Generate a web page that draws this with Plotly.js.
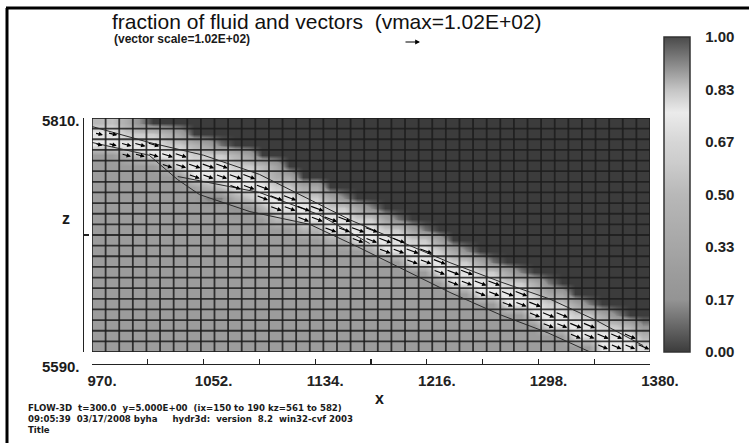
<!DOCTYPE html>
<html><head><meta charset="utf-8">
<script src="https://cdn.plot.ly/plotly-3.0.1.min.js"></script>
<style>html,body{margin:0;padding:0;background:#fff}#chart{width:749px;height:443px}</style>
</head><body><div id="chart"></div>
<script>
// ---- data ----
const xCenters = [975,985,995,1005,1015,1025,1035,1045,1055,1065,1075,1085,1095,1105,1115,1125,1135,1145,1155,1165,1175,1185,1195,1205,1215,1225,1235,1245,1255,1265,1275,1285,1295,1305,1315,1325,1335,1345,1355,1365,1375];
const zCenters = [5805,5795,5785,5775,5765,5755,5745,5735,5725,5715,5705,5695,5685,5675,5665,5655,5645,5635,5625,5615,5605,5595];

// fraction of fluid, one row per z (top row first), one value per x cell
const fluidFraction = [
 [0.5,0.55,0.4,0.15,0,0,0,0,0,0, 0,0,0,0,0,0,0,0,0,0, 0,0,0,0,0,0,0,0,0,0, 0,0,0,0,0,0,0,0,0,0, 0],
 [0.78,0.78,0.6,0.6,0.6,0.45,0.3,0,0,0, 0,0,0,0,0,0,0,0,0,0, 0,0,0,0,0,0,0,0,0,0, 0,0,0,0,0,0,0,0,0,0, 0],
 [0.74,0.74,0.78,0.78,0.78,0.6,0.6,0.45,0.3,0.1, 0,0,0,0,0,0,0,0,0,0, 0,0,0,0,0,0,0,0,0,0, 0,0,0,0,0,0,0,0,0,0, 0],
 [0.25,0.25,0.45,0.6,0.74,0.78,0.78,0.6,0.6,0.6, 0.45,0.3,0,0,0,0,0,0,0,0, 0,0,0,0,0,0,0,0,0,0, 0,0,0,0,0,0,0,0,0,0, 0],
 [0.25,0.25,0.25,0.25,0.25,0.45,0.74,0.78,0.78,0.78, 0.6,0.6,0.5,0.3,0,0,0,0,0,0, 0,0,0,0,0,0,0,0,0,0, 0,0,0,0,0,0,0,0,0,0, 0],
 [0.25,0.25,0.25,0.25,0.25,0.25,0.25,0.74,0.74,0.74, 0.78,0.78,0.6,0.4,0.35,0,0,0,0,0, 0,0,0,0,0,0,0,0,0,0, 0,0,0,0,0,0,0,0,0,0, 0],
 [0.25,0.25,0.25,0.25,0.25,0.25,0.25,0.3,0.45,0.55, 0.74,0.74,0.78,0.6,0.6,0.35,0.35,0,0,0, 0,0,0,0,0,0,0,0,0,0, 0,0,0,0,0,0,0,0,0,0, 0],
 [0.25,0.25,0.25,0.25,0.25,0.25,0.25,0.25,0.12,0.12, 0.4,0.55,0.74,0.78,0.78,0.6,0.6,0.35,0.15,0, 0,0,0,0,0,0,0,0,0,0, 0,0,0,0,0,0,0,0,0,0, 0],
 [0.25,0.25,0.25,0.25,0.25,0.25,0.25,0.25,0.25,0.25, 0.18,0.2,0.45,0.74,0.74,0.78,0.78,0.6,0.6,0.35, 0.15,0,0,0,0,0,0,0,0,0, 0,0,0,0,0,0,0,0,0,0, 0],
 [0.25,0.25,0.25,0.25,0.25,0.25,0.25,0.25,0.25,0.25, 0.25,0.25,0.25,0.5,0.5,0.74,0.74,0.78,0.78,0.6, 0.6,0.3,0.1,0,0,0,0,0,0,0, 0,0,0,0,0,0,0,0,0,0, 0],
 [0.25,0.25,0.25,0.25,0.25,0.25,0.25,0.25,0.25,0.25, 0.25,0.25,0.25,0.25,0.25,0.45,0.45,0.74,0.74,0.78, 0.78,0.6,0.6,0.3,0.1,0,0,0,0,0, 0,0,0,0,0,0,0,0,0,0, 0],
 [0.25,0.25,0.25,0.25,0.25,0.25,0.25,0.25,0.25,0.25, 0.25,0.25,0.25,0.25,0.25,0.25,0.25,0.4,0.4,0.74, 0.74,0.78,0.78,0.6,0.6,0.3,0,0,0,0, 0,0,0,0,0,0,0,0,0,0, 0],
 [0.25,0.25,0.25,0.25,0.25,0.25,0.25,0.25,0.25,0.25, 0.25,0.25,0.25,0.25,0.25,0.25,0.25,0.25,0.25,0.25, 0.35,0.74,0.74,0.78,0.78,0.6,0.35,0.15,0,0, 0,0,0,0,0,0,0,0,0,0, 0],
 [0.25,0.25,0.25,0.25,0.25,0.25,0.25,0.25,0.25,0.25, 0.25,0.25,0.25,0.25,0.25,0.25,0.25,0.25,0.25,0.25, 0.25,0.25,0.25,0.74,0.74,0.78,0.6,0.6,0.35,0.1, 0,0,0,0,0,0,0,0,0,0, 0],
 [0.25,0.25,0.25,0.25,0.25,0.25,0.25,0.25,0.25,0.25, 0.25,0.25,0.25,0.25,0.25,0.25,0.25,0.25,0.25,0.25, 0.25,0.25,0.25,0.25,0.25,0.74,0.78,0.78,0.6,0.6, 0.35,0.12,0,0,0,0,0,0,0,0, 0],
 [0.25,0.25,0.25,0.25,0.25,0.25,0.25,0.25,0.25,0.25, 0.25,0.25,0.25,0.25,0.25,0.25,0.25,0.25,0.25,0.25, 0.25,0.25,0.25,0.25,0.25,0.25,0.74,0.74,0.78,0.78, 0.6,0.6,0.4,0.12,0,0,0,0,0,0, 0],
 [0.25,0.25,0.25,0.25,0.25,0.25,0.25,0.25,0.25,0.25, 0.25,0.25,0.25,0.25,0.25,0.25,0.25,0.25,0.25,0.25, 0.25,0.25,0.25,0.25,0.25,0.25,0.25,0.25,0.74,0.74, 0.78,0.78,0.6,0.35,0.3,0,0,0,0,0, 0],
 [0.25,0.25,0.25,0.25,0.25,0.25,0.25,0.25,0.25,0.25, 0.25,0.25,0.25,0.25,0.25,0.25,0.25,0.25,0.25,0.25, 0.25,0.25,0.25,0.25,0.25,0.25,0.25,0.25,0.25,0.25, 0.74,0.74,0.78,0.6,0.6,0.35,0.12,0,0,0, 0],
 [0.25,0.25,0.25,0.25,0.25,0.25,0.25,0.25,0.25,0.25, 0.25,0.25,0.25,0.25,0.25,0.25,0.25,0.25,0.25,0.25, 0.25,0.25,0.25,0.25,0.25,0.25,0.25,0.25,0.25,0.25, 0.25,0.25,0.74,0.78,0.78,0.6,0.6,0.35,0.15,0, 0],
 [0.25,0.25,0.25,0.25,0.25,0.25,0.25,0.25,0.25,0.25, 0.25,0.25,0.25,0.25,0.25,0.25,0.25,0.25,0.25,0.25, 0.25,0.25,0.25,0.25,0.25,0.25,0.25,0.25,0.25,0.25, 0.25,0.25,0.25,0.74,0.74,0.78,0.78,0.6,0.55,0.4, 0.15],
 [0.25,0.25,0.25,0.25,0.25,0.25,0.25,0.25,0.25,0.25, 0.25,0.25,0.25,0.25,0.25,0.25,0.25,0.25,0.25,0.25, 0.25,0.25,0.25,0.25,0.25,0.25,0.25,0.25,0.25,0.25, 0.25,0.25,0.25,0.25,0.25,0.74,0.74,0.78,0.78,0.78, 0.45],
 [0.25,0.25,0.25,0.25,0.25,0.25,0.25,0.25,0.25,0.25, 0.25,0.25,0.25,0.25,0.25,0.25,0.25,0.25,0.25,0.25, 0.25,0.25,0.25,0.25,0.25,0.25,0.25,0.25,0.25,0.25, 0.25,0.25,0.25,0.25,0.25,0.25,0.25,0.74,0.74,0.74, 0.7]
];

// velocity vectors: row index (into zCenters) of the upper vector in each column; the lower one sits one row below
const arrowRowTop = [1,1,2,2,2,3,3,4,4,4, 5,5,6,7,7,8,8,9,9,10, 10,11,11,12,12,13,14,14,15,15, 16,16,17,18,18,19,19,20,20,20, 21];
const uTop = [62,72,80,85,88,90,92,94,95,96, 97,98,99,100,101,101,102,102,101,101, 100,100,99,99,99,98,98,98,97,97, 96,96,96,95,95,94,94,93,92,91, 90];
const wTop = [-18,-22,-26,-30,-33,-36,-39,-41,-43,-44, -45,-46,-47,-48,-48,-49,-49,-49,-48,-48, -48,-48,-48,-47,-47,-48,-48,-48,-48,-48, -48,-48,-49,-49,-49,-50,-50,-50,-50,-50, -50];
const uLow = [55,64,72,76,79,81,83,84,85,86, 87,88,88,89,90,90,91,91,90,90, 89,89,88,88,88,87,87,87,86,86, 86,85,85,85,84,84,83,83,82,81, 80];
const wLow = [-16,-20,-24,-27,-30,-33,-35,-37,-38,-39, -40,-41,-42,-43,-43,-44,-44,-44,-43,-43, -43,-43,-43,-42,-42,-43,-43,-43,-43,-43, -43,-43,-44,-44,-44,-45,-45,-45,-45,-45, -45];

// fluid-surface contour lines
const upperLineX = [970,1012,1052,1093,1132,1160,1200,1233,1270,1306,1340,1375];
const upperLineZ = [5802,5787,5775,5757,5732,5714,5692,5674,5656,5640,5620,5596];
const lowerLineX = [970,1012,1033,1049,1086,1130,1165,1200,1233,1270,1305,1336];
const lowerLineZ = [5787,5775,5752,5738,5722,5710,5689,5667,5646,5625,5608,5590];
const midLineX = [1033,1060,1093,1137,1174];
const midLineZ = [5755,5748,5740,5719,5692];

const xTickVals = [970,1011,1052,1093,1134,1175,1216,1257,1298,1339,1380];
const xTickText = ['970.','','1052.','','1134.','','1216.','','1298.','','1380.'];
const yTickVals = [5590,5700,5810];
const cbTickVals = [0,0.1667,0.3333,0.5,0.6667,0.8333,1];
const cbTickText = ['0.00','0.17','0.33','0.50','0.67','0.83','1.00'];

// ---- layout helpers ----
const W=749, H=443, ML=80, MR=99, MT=118, MB=73;
const PW=W-ML-MR, PH=H-MT-MB;
const px = v => (v-ML)/PW;
const py = v => (H-MB-v)/PH;
const FONT = 'Liberation Sans, Arial, sans-serif';

const colorscale = [
  [0,'#3c3c3c'],[0.08,'#666666'],[0.1667,'#949494'],[0.25,'#9c9c9c'],[0.3333,'#a6a6a6'],
  [0.5,'#b8b8b8'],[0.6,'#cccccc'],[0.6667,'#d6d6d6'],[0.76,'#ebebeb'],[0.8333,'#c4c4c4'],[1,'#4a4a4a']
];

const heat = {
  type:'heatmap', x:xCenters, y:zCenters, z:fluidFraction,
  zmin:0, zmax:1, zsmooth:'best', colorscale:colorscale, hoverinfo:'skip',
  colorbar:{
    x:px(664), xanchor:'left', y:py(352), yanchor:'bottom',
    len:315, lenmode:'pixels', thickness:26, thicknessmode:'pixels',
    xpad:0, ypad:0, outlinewidth:1.5, outlinecolor:'#333', borderwidth:0,
    tickmode:'array', tickvals:cbTickVals, ticktext:cbTickText,
    ticks:'outside', ticklen:12, tickcolor:'rgba(0,0,0,0)',
    tickfont:{family:FONT, size:15, color:'#222', weight:'bold'}
  }
};

// grid lines on the cell edges
const hx = (xCenters[1]-xCenters[0])/2, hz = Math.abs(zCenters[0]-zCenters[1])/2;
const xEdges = [xCenters[0]-hx].concat(xCenters.map(v=>v+hx));
const zs = zCenters.slice().sort((a,b)=>a-b);
const zEdges = [zs[0]-hz].concat(zs.map(v=>v+hz));
const gx=[], gy=[];
xEdges.forEach(e=>{gx.push(e,e,null); gy.push(zEdges[0],zEdges[zEdges.length-1],null);});
zEdges.forEach(e=>{gx.push(xEdges[0],xEdges[xEdges.length-1],null); gy.push(e,e,null);});
const grid = {type:'scatter', mode:'lines', x:gx, y:gy, line:{color:'rgba(28,28,28,0.85)', width:1.8}, hoverinfo:'skip', showlegend:false};

const lineStyle = {color:'#2a2a2a', width:1};
const cUp = {type:'scatter', mode:'lines', x:upperLineX, y:upperLineZ, line:lineStyle, hoverinfo:'skip', showlegend:false};
const cLow = {type:'scatter', mode:'lines', x:lowerLineX, y:lowerLineZ, line:lineStyle, hoverinfo:'skip', showlegend:false};
const cMid = {type:'scatter', mode:'lines', x:midLineX, y:midLineZ, line:lineStyle, hoverinfo:'skip', showlegend:false};

// vectors as arrow annotations
const S = 0.1;
const annotations = [];
for (let c=0; c<xCenters.length; c++) {
  const rows = [[arrowRowTop[c], uTop[c], wTop[c]], [arrowRowTop[c]+1, uLow[c], wLow[c]]];
  rows.forEach(([r,u,w])=>{
    if (r > zCenters.length-1) return;
    const cx = xCenters[c], cz = zCenters[r];
    annotations.push({x:cx+u*S/2, y:cz+w*S/2, ax:cx-u*S/2, ay:cz-w*S/2,
      xref:'x', yref:'y', axref:'x', ayref:'y', text:'', showarrow:true,
      arrowhead:2, arrowsize:0.8, arrowwidth:1.1, arrowcolor:'#000'});
  });
}

const txt = (text, x, y, size, anchor, bold, family) => ({
  text:text, xref:'paper', yref:'paper', x:px(x), y:py(y), xanchor:anchor, yanchor:'middle',
  showarrow:false, font:{family:family || FONT, size:size, color:'#1a1a1a', weight: bold ? 'bold' : 'normal'}
});
annotations.push(txt('(vector scale=1.02E+02)', 112, 39, 12, 'left', true));
annotations.push(txt('5810.', 82, 120, 15, 'right', true));
annotations.push(txt('5590.', 82, 366, 15, 'right', true));
annotations.push(txt('z', 66, 218, 16, 'center', true));
annotations.push(txt('x', 379, 398, 16, 'center', true));
const footer = txt('FLOW-3D\u00a0 t=300.0\u00a0 y=5.000E+00\u00a0 (ix=150 to 190 kz=561 to 582)<br>' +
  '09:05:39\u00a0 03/17/2008 byha\u00a0\u00a0\u00a0\u00a0 hydr3d:\u00a0 version\u00a0 8.2\u00a0 win32-cvf 2003<br>Title',
  26, 419, 8.6, 'left', true, 'DejaVu Sans, sans-serif');
footer.align = 'left';
annotations.push(footer);
annotations.push({xref:'paper', yref:'paper', x:px(420), y:py(42), ax:-16, ay:0, text:'', showarrow:true,
  arrowhead:2, arrowsize:0.8, arrowwidth:1.2, arrowcolor:'#000'});

const shapes = [
  {type:'line', xref:'paper', yref:'paper', x0:px(7), x1:px(7), y0:py(443), y1:py(8), line:{color:'#000', width:3}},
  {type:'line', xref:'paper', yref:'paper', x0:px(6), x1:px(749), y0:py(8), y1:py(8), line:{color:'#000', width:3}}
];
for (let k=1; k<6; k++) {
  const yy = 352 - k*315/6;
  shapes.push({type:'line', xref:'paper', yref:'paper', x0:px(664), x1:px(690), y0:py(yy), y1:py(yy), line:{color:'#333', width:1.5}});
}

const layout = {
  width:W, height:H, margin:{l:ML, r:MR, t:MT, b:MB, autoexpand:false},
  paper_bgcolor:'#fff', plot_bgcolor:'#fff', showlegend:false,
  title:{text:'fraction of fluid and vectors\u00a0 (vmax=1.02E+02)', xref:'paper', x:px(112), xanchor:'left',
         yref:'container', y:1-22/H, yanchor:'middle', font:{family:FONT, size:21, color:'#111'}},
  xaxis:{domain:[px(92),1], range:[970,1380], anchor:'free', position:py(364),
    showline:true, linecolor:'#222', linewidth:1.2, ticks:'inside', ticklen:5, tickwidth:1.2, tickcolor:'#222',
    tickmode:'array', tickvals:xTickVals, ticktext:xTickText, ticklabelshift:10, ticklabelstandoff:3,
    tickfont:{family:FONT, size:15, color:'#222', weight:'bold'}, showgrid:false, zeroline:false},
  yaxis:{domain:[py(352),1], range:[5590,5810], anchor:'free', position:px(83),
    showline:true, linecolor:'#222', linewidth:1.2, ticks:'inside', ticklen:5, tickwidth:1.2, tickcolor:'#222',
    tickmode:'array', tickvals:yTickVals, showticklabels:false, showgrid:false, zeroline:false},
  annotations:annotations, shapes:shapes
};

Plotly.newPlot('chart', [heat, grid, cLow, cMid, cUp], layout, {staticPlot:true, displayModeBar:false});
</script></body></html>
